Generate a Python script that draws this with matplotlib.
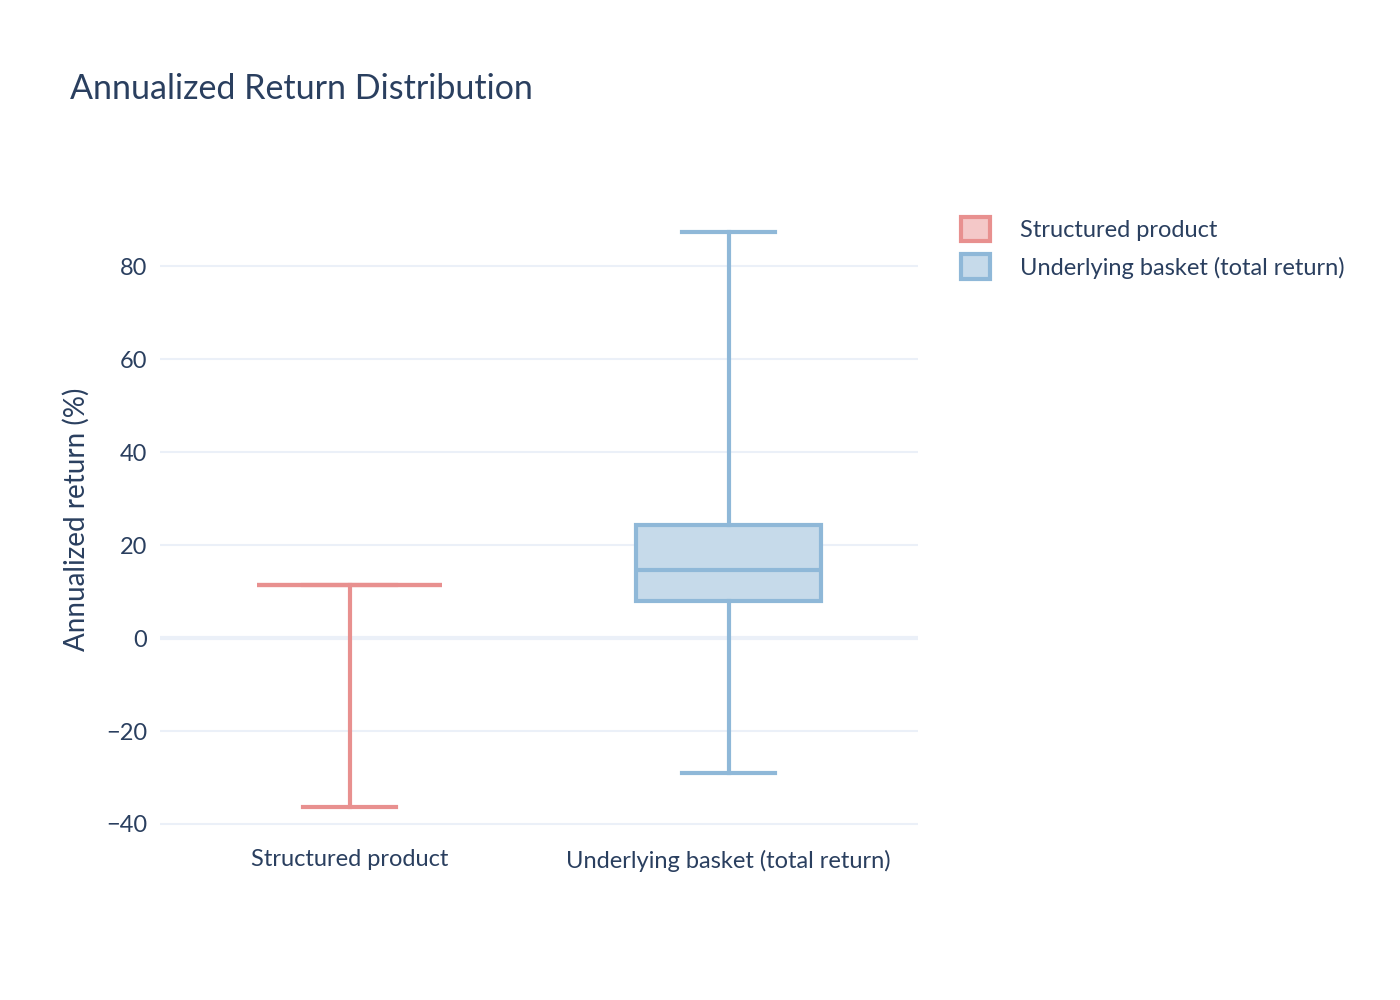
import matplotlib.pyplot as plt
from matplotlib.patches import Patch

plt.rcParams['font.family'] = ['Lato', 'DejaVu Sans']

categories = ['Structured product', 'Underlying basket (total return)']
lower = [-36.3, -29.0]
q1 = [11.4, 8.0]
median = [11.4, 14.7]
q3 = [11.4, 24.3]
upper = [11.4, 87.3]
colors = ['#e8908f', '#8fb8d8']
fills = ['#f4c8c8', '#c6daea']

text_color = '#2a3f5f'
grid_color = '#ebf0f8'

fig = plt.figure(figsize=(14, 10), dpi=100)
ax = fig.add_axes([160 / 1400, 163 / 1000, 758 / 1400, 635 / 1000])

for i, name in enumerate(categories):
    stats = [dict(whislo=lower[i], q1=q1[i], med=median[i], q3=q3[i],
                  whishi=upper[i], label=name)]
    c = colors[i]
    ax.bxp(stats, positions=[i], widths=0.49, showfliers=False,
           patch_artist=True,
           boxprops=dict(facecolor=fills[i], edgecolor=c, linewidth=3),
           medianprops=dict(color=c, linewidth=3),
           whiskerprops=dict(color=c, linewidth=3),
           capprops=dict(color=c, linewidth=3), capwidths=0.245)

ax.set_xlim(-0.5, 1.5)
ax.set_ylim(-42.8, 93.8)
ax.set_yticks([-40, -20, 0, 20, 40, 60, 80])
ax.set_yticklabels(['\u221240', '\u221220', '0', '20', '40', '60', '80'])
ax.set_xticks([0, 1])
ax.set_xticklabels(categories)
ax.grid(axis='y', color=grid_color, linewidth=1.5)
ax.axhline(0, color=grid_color, linewidth=3, zorder=0)
ax.set_axisbelow(True)
for s in ax.spines.values():
    s.set_visible(False)
ax.tick_params(length=0, labelsize=17, colors=text_color, pad=9)
ax.set_ylabel('Annualized return (%)', fontsize=20, color=text_color, labelpad=12)

fig.text(70 / 1400, 1 - 89 / 1000, 'Annualized Return Distribution',
         fontsize=24.5, color=text_color, va='center')

handles = [Patch(facecolor=fills[i], edgecolor=colors[i], linewidth=3,
                 label=categories[i]) for i in range(2)]
leg = fig.legend(handles=handles, loc='upper left',
                 bbox_to_anchor=(940 / 1400, 1 - 196 / 1000), frameon=False,
                 fontsize=17, labelcolor=text_color, handlelength=1.2,
                 handleheight=1.2, handletextpad=1.3, labelspacing=0.55)

fig.savefig('out.png')
